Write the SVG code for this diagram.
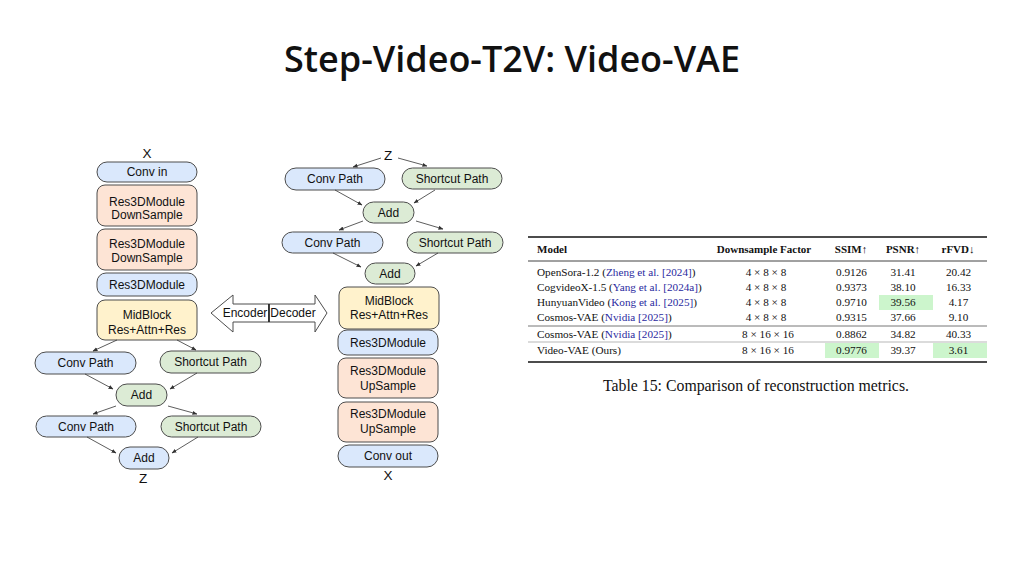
<svg xmlns="http://www.w3.org/2000/svg" width="1024" height="576" viewBox="0 0 1024 576">
<defs>
<marker id="ah" viewBox="0 0 10 10" refX="9" refY="5" markerWidth="5" markerHeight="5" orient="auto" markerUnits="userSpaceOnUse">
<path d="M0,1 L10,5 L0,9 Z" fill="#333"/>
</marker>
</defs>
<style>
.n{stroke:#4d4d4d;stroke-width:1}
.blue{fill:#dae8fc}
.org{fill:#fde4d5}
.yel{fill:#fff2cc}
.grn{fill:#dcebd5}
.t{font-family:"Liberation Sans",Arial,sans-serif;font-size:12px;fill:#111;text-anchor:middle}
.lbl{font-family:"Liberation Sans",Arial,sans-serif;font-size:13.5px;fill:#111;text-anchor:middle}
.c line{stroke:#333;stroke-width:0.8;marker-end:url(#ah)}
.tb{font-family:"Liberation Serif","Times New Roman",serif;font-size:11.2px;fill:#111}
.th{font-family:"Liberation Serif","Times New Roman",serif;font-size:11px;font-weight:bold;fill:#111}
.cite{fill:#2a2aa0}
.m{text-anchor:middle}
.hl{fill:#ccf5cc}
</style>
<rect width="1024" height="576" fill="#fff"/>
<text x="512" y="72" font-family="'Open Sans','Noto Sans',sans-serif" font-size="36" font-weight="600" fill="#111" text-anchor="middle">Step-Video-T2V: Video-VAE</text>

<!-- Encoder -->
<g id="enc-x"><text class="lbl" x="147" y="158">X</text></g>
<g id="enc-convin"><rect class="n blue" x="97" y="162" width="100" height="20" rx="10"/><text class="t" x="147" y="176">Conv in</text></g>
<g id="enc-down1"><rect class="n org" x="97" y="185" width="100" height="41" rx="8"/><text class="t" x="147" y="205.5">Res3DModule</text><text class="t" x="147" y="218.5">DownSample</text></g>
<g id="enc-down2"><rect class="n org" x="97" y="229" width="100" height="41" rx="8"/><text class="t" x="147" y="247.5">Res3DModule</text><text class="t" x="147" y="261.5">DownSample</text></g>
<g id="enc-res3d"><rect class="n blue" x="97" y="273" width="100" height="23" rx="9"/><text class="t" x="147" y="288.5">Res3DModule</text></g>
<g id="enc-mid"><rect class="n yel" x="97" y="300" width="100" height="40" rx="8"/><text class="t" x="147" y="319">MidBlock</text><text class="t" x="147" y="334">Res+Attn+Res</text></g>
<g id="enc-conv1"><rect class="n blue" x="35" y="352" width="101" height="22" rx="11"/><text class="t" x="85.5" y="367">Conv Path</text></g>
<g id="enc-short1"><rect class="n grn" x="160" y="351" width="101" height="22" rx="11"/><text class="t" x="210.5" y="366">Shortcut Path</text></g>
<g id="enc-add1"><rect class="n grn" x="116" y="384" width="51" height="22" rx="11"/><text class="t" x="141.5" y="399">Add</text></g>
<g id="enc-conv2"><rect class="n blue" x="36" y="416" width="100" height="21" rx="10.5"/><text class="t" x="86" y="431">Conv Path</text></g>
<g id="enc-short2"><rect class="n grn" x="161" y="416" width="100" height="21" rx="10.5"/><text class="t" x="211" y="431">Shortcut Path</text></g>
<g id="enc-add2"><rect class="n blue" x="119" y="447" width="50" height="22" rx="11"/><text class="t" x="144" y="462">Add</text></g>
<g id="enc-z"><text class="lbl" x="143" y="483">Z</text></g>

<!-- Decoder -->
<g id="dec-z"><text class="lbl" x="388" y="160">Z</text></g>
<g id="dec-conv1"><rect class="n blue" x="285" y="168" width="100" height="22" rx="11"/><text class="t" x="335" y="183">Conv Path</text></g>
<g id="dec-short1"><rect class="n grn" x="402" y="168" width="100" height="21" rx="10.5"/><text class="t" x="452" y="183">Shortcut Path</text></g>
<g id="dec-add1"><rect class="n grn" x="363" y="202" width="51" height="21" rx="10.5"/><text class="t" x="388.5" y="216.5">Add</text></g>
<g id="dec-conv2"><rect class="n blue" x="282" y="232" width="101" height="21" rx="10.5"/><text class="t" x="332.5" y="247">Conv Path</text></g>
<g id="dec-short2"><rect class="n grn" x="407" y="232" width="96" height="21" rx="10.5"/><text class="t" x="455" y="247">Shortcut Path</text></g>
<g id="dec-add2"><rect class="n grn" x="365" y="263" width="50" height="21" rx="10.5"/><text class="t" x="390" y="278">Add</text></g>
<g id="dec-mid"><rect class="n yel" x="339" y="287" width="100" height="42" rx="8"/><text class="t" x="389" y="305">MidBlock</text><text class="t" x="389" y="319">Res+Attn+Res</text></g>
<g id="dec-res3d"><rect class="n blue" x="338" y="330" width="100" height="25" rx="9"/><text class="t" x="388" y="347">Res3DModule</text></g>
<g id="dec-up1"><rect class="n org" x="338" y="358" width="100" height="40" rx="8"/><text class="t" x="388" y="375">Res3DModule</text><text class="t" x="388" y="390">UpSample</text></g>
<g id="dec-up2"><rect class="n org" x="338" y="402" width="100" height="40" rx="8"/><text class="t" x="388" y="418">Res3DModule</text><text class="t" x="388" y="433">UpSample</text></g>
<g id="dec-convout"><rect class="n blue" x="338" y="445" width="100" height="22" rx="11"/><text class="t" x="388" y="460">Conv out</text></g>
<g id="dec-x"><text class="lbl" x="388" y="480">X</text></g>

<!-- Encoder/Decoder arrows -->
<g id="enc-arrow"><polygon points="269,304 233,304 233,295 211,313 233,332 233,322 269,322" fill="#fff" stroke="#4d4d4d" stroke-width="1"/><text class="t" x="245" y="317">Encoder</text></g>
<g id="dec-arrow"><polygon points="269,304 315,304 315,295 327,313 315,332 315,322 269,322" fill="#fff" stroke="#4d4d4d" stroke-width="1"/><line x1="269" y1="304" x2="269" y2="322" stroke="#222" stroke-width="1.6"/><text class="t" x="293" y="317">Decoder</text></g>

<!-- Connectors -->
<g id="connectors" class="c">
<line x1="117" y1="340" x2="93" y2="351"/>
<line x1="177" y1="340" x2="196" y2="350"/>
<line x1="85" y1="374" x2="113" y2="389"/>
<line x1="197" y1="373" x2="170" y2="389"/>
<line x1="116" y1="406" x2="93" y2="414"/>
<line x1="168" y1="406" x2="197" y2="414"/>
<line x1="87" y1="437" x2="116" y2="453"/>
<line x1="198" y1="437" x2="172" y2="453"/>
<line x1="381" y1="158" x2="353" y2="167"/>
<line x1="398" y1="158" x2="427" y2="166"/>
<line x1="335" y1="190" x2="362" y2="205"/>
<line x1="435" y1="190" x2="414" y2="203"/>
<line x1="363" y1="221" x2="339" y2="230"/>
<line x1="416" y1="221" x2="443" y2="229"/>
<line x1="333" y1="253" x2="361" y2="267"/>
<line x1="438" y1="253" x2="416" y2="266"/>
</g>

<!-- Table -->
<g id="table">
<rect class="hl" x="879" y="295" width="54" height="15"/>
<rect class="hl" x="825" y="343" width="54" height="15"/>
<rect class="hl" x="933" y="343" width="54" height="15"/>
<line x1="528" y1="237" x2="987" y2="237" stroke="#111" stroke-width="1.3"/>
<line x1="528" y1="261" x2="987" y2="261" stroke="#111" stroke-width="0.8"/>
<line x1="528" y1="326" x2="987" y2="326" stroke="#777" stroke-width="1"/>
<line x1="528" y1="342" x2="987" y2="342" stroke="#999" stroke-width="0.7"/>
<line x1="528" y1="362" x2="987" y2="362" stroke="#111" stroke-width="1.3"/>
<text class="th" x="537" y="253">Model</text>
<text class="th m" x="764" y="253">Downsample Factor</text>
<text class="th m" x="851" y="253">SSIM↑</text>
<text class="th m" x="903" y="253">PSNR↑</text>
<text class="th m" x="958" y="253">rFVD↓</text>

<text class="tb" x="537" y="276">OpenSora-1.2 (<tspan class="cite">Zheng et al. [2024]</tspan>)</text>
<text class="tb m" x="766" y="276">4 × 8 × 8</text>
<text class="tb m" x="851.5" y="276">0.9126</text>
<text class="tb m" x="903" y="276">31.41</text>
<text class="tb m" x="958.5" y="276">20.42</text>

<text class="tb" x="537" y="291">CogvideoX-1.5 (<tspan class="cite">Yang et al. [2024a]</tspan>)</text>
<text class="tb m" x="766" y="291">4 × 8 × 8</text>
<text class="tb m" x="851.5" y="291">0.9373</text>
<text class="tb m" x="903" y="291">38.10</text>
<text class="tb m" x="958.5" y="291">16.33</text>

<text class="tb" x="537" y="306">HunyuanVideo (<tspan class="cite">Kong et al. [2025]</tspan>)</text>
<text class="tb m" x="766" y="306">4 × 8 × 8</text>
<text class="tb m" x="851.5" y="306">0.9710</text>
<text class="tb m" x="903" y="306">39.56</text>
<text class="tb m" x="958.5" y="306">4.17</text>

<text class="tb" x="537" y="321">Cosmos-VAE (<tspan class="cite">Nvidia [2025]</tspan>)</text>
<text class="tb m" x="766" y="321">4 × 8 × 8</text>
<text class="tb m" x="851.5" y="321">0.9315</text>
<text class="tb m" x="903" y="321">37.66</text>
<text class="tb m" x="958.5" y="321">9.10</text>

<text class="tb" x="537" y="338">Cosmos-VAE (<tspan class="cite">Nvidia [2025]</tspan>)</text>
<text class="tb m" x="768" y="338">8 × 16 × 16</text>
<text class="tb m" x="851.5" y="338">0.8862</text>
<text class="tb m" x="903" y="338">34.82</text>
<text class="tb m" x="958.5" y="338">40.33</text>

<text class="tb" x="537" y="354">Video-VAE (Ours)</text>
<text class="tb m" x="768" y="354">8 × 16 × 16</text>
<text class="tb m" x="851.5" y="354">0.9776</text>
<text class="tb m" x="903" y="354">39.37</text>
<text class="tb m" x="958.5" y="354">3.61</text>
</g>
<g id="caption"><text x="756" y="391" font-family="'Liberation Serif','Times New Roman',serif" font-size="15.8" fill="#111" text-anchor="middle">Table 15: Comparison of reconstruction metrics.</text></g>
</svg>
